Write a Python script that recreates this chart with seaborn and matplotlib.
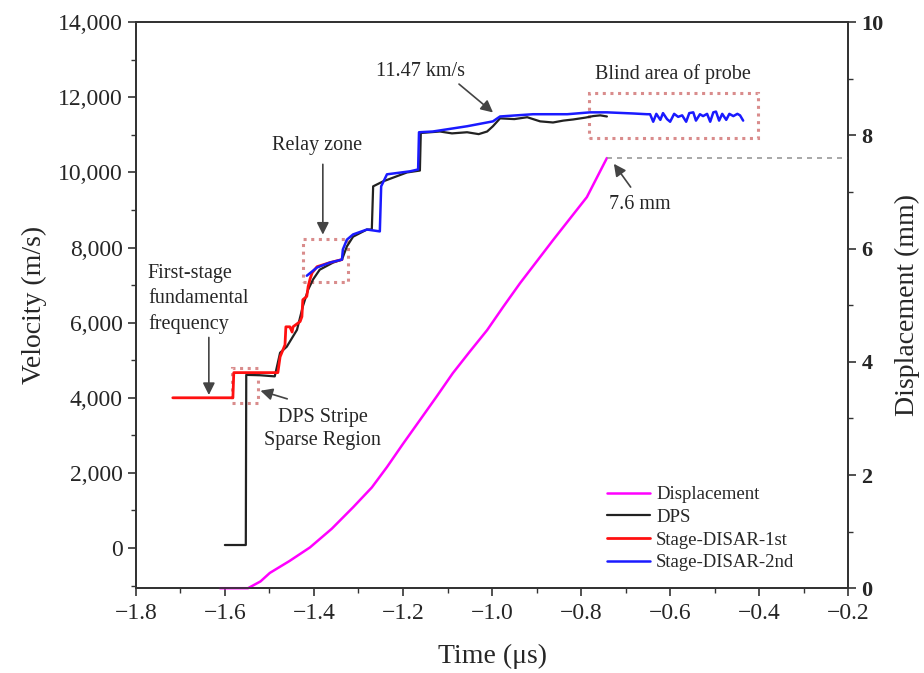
import numpy as np
import pandas as pd
import seaborn as sns
from matplotlib import pyplot as plt
from matplotlib.patches import Rectangle
from matplotlib.ticker import FuncFormatter, MultipleLocator

# displacement curve (right axis, mm)
disp_t = [-1.611, -1.548, -1.520, -1.499, -1.455, -1.409, -1.360, -1.312, -1.270,
          -1.236, -1.200, -1.162, -1.125, -1.088, -1.050, -1.011, -0.975, -0.937,
          -0.900, -0.863, -0.825, -0.787, -0.742]
disp_mm = [0, 0, 0.12, 0.27, 0.48, 0.72, 1.05, 1.43, 1.78, 2.14, 2.55, 2.97, 3.38,
           3.80, 4.18, 4.56, 4.97, 5.39, 5.77, 6.15, 6.53, 6.91, 7.6]

# DPS velocity (m/s)
dps_t = [-1.600, -1.557, -1.553, -1.552, -1.521, -1.488, -1.476, -1.461, -1.438,
         -1.425, -1.413, -1.402, -1.387, -1.357, -1.337, -1.326, -1.312, -1.281,
         -1.270, -1.267, -1.245, -1.191, -1.162, -1.160, -1.117, -1.090, -1.056,
         -1.030, -1.011, -0.998, -0.982, -0.950, -0.921, -0.892, -0.863, -0.840,
         -0.818, -0.790, -0.773, -0.757, -0.742]
dps_v = [80, 80, 80, 4610, 4600, 4570, 5200, 5360, 5810, 6430, 6880, 7150, 7410,
         7600, 7680, 8030, 8290, 8480, 8480, 9630, 9760, 10000, 10050, 11050, 11090,
         11040, 11070, 11020, 11090, 11230, 11440, 11420, 11470, 11360, 11330, 11380,
         11410, 11460, 11500, 11520, 11490]

# Stage-DISAR-1st
red_t = [-1.717, -1.582, -1.580, -1.481, -1.476, -1.465, -1.463, -1.454, -1.449,
         -1.447, -1.431, -1.427, -1.425, -1.416, -1.413, -1.409, -1.404, -1.393,
         -1.364, -1.337]
red_v = [4000, 4000, 4670, 4670, 5090, 5410, 5890, 5890, 5750, 5890, 6030, 6160,
         6610, 6700, 6960, 7150, 7330, 7490, 7600, 7680]

# Stage-DISAR-2nd
blue_t = [-1.416, -1.393, -1.364, -1.337, -1.335, -1.326, -1.312, -1.281, -1.252,
          -1.249, -1.236, -1.184, -1.166, -1.164, -1.133, -1.056, -0.998, -0.982,
          -0.908, -0.831, -0.780, -0.742, -0.683, -0.652,
          -0.645, -0.638, -0.631, -0.622, -0.616, -0.607, -0.600, -0.591, -0.582,
          -0.573, -0.564, -0.557, -0.548, -0.542, -0.533, -0.526, -0.517, -0.510,
          -0.503, -0.497, -0.490, -0.483, -0.474, -0.467, -0.458, -0.449, -0.443,
          -0.436]
blue_v = [7250, 7470, 7600, 7680, 7950, 8210, 8350, 8480, 8430, 9630, 9950, 10030,
          10080, 11070, 11090, 11230, 11360, 11490, 11550, 11550, 11600, 11600,
          11570, 11550,
          11550, 11350, 11560, 11400, 11580, 11420, 11350, 11560, 11480, 11520,
          11350, 11580, 11600, 11380, 11550, 11500, 11560, 11350, 11600, 11620,
          11380, 11560, 11400, 11560, 11500, 11560, 11520, 11380]

sns.set_theme(style="ticks")
plt.rcParams['font.family'] = ['Liberation Serif', 'DejaVu Serif']

fig = plt.figure(figsize=(9.24, 6.73), dpi=100)
ax = fig.add_axes([0.147, 0.126, 0.771, 0.841])
ax2 = ax.twinx()

df_disp = pd.DataFrame({"t": disp_t, "v": disp_mm})
df_dps = pd.DataFrame({"t": dps_t, "v": dps_v})
df_red = pd.DataFrame({"t": red_t, "v": red_v})
df_blue = pd.DataFrame({"t": blue_t, "v": blue_v})

sns.lineplot(data=df_dps, x="t", y="v", sort=False, estimator=None, color="#222222",
             lw=1.6, ax=ax, label="DPS")
sns.lineplot(data=df_red, x="t", y="v", sort=False, estimator=None, color="#ff1010",
             lw=2.0, ax=ax, label="Stage-DISAR-1st")
sns.lineplot(data=df_blue, x="t", y="v", sort=False, estimator=None, color="#1a1aff",
             lw=1.8, ax=ax, label="Stage-DISAR-2nd")
sns.lineplot(data=df_disp, x="t", y="v", sort=False, estimator=None, color="#ff00ff",
             lw=1.8, ax=ax2, label="Displacement")
for ln in ax2.get_lines():
    ln.set_clip_on(False)

ax.set_xlim(-1.8, -0.2)
ax.set_ylim(-1070, 14000)
ax2.set_ylim(0, 10)

ax.xaxis.set_major_locator(MultipleLocator(0.2))
ax.xaxis.set_minor_locator(MultipleLocator(0.1))
ax.yaxis.set_major_locator(MultipleLocator(2000))
ax.yaxis.set_minor_locator(MultipleLocator(1000))
ax2.yaxis.set_major_locator(MultipleLocator(2))
ax2.yaxis.set_minor_locator(MultipleLocator(1))
ax.yaxis.set_major_formatter(FuncFormatter(lambda v, p: f"{int(v):,}"))
ax.xaxis.set_major_formatter(FuncFormatter(lambda v, p: f"{v:.1f}".replace("-", "\u2212")))

for a in (ax, ax2):
    a.tick_params(which="major", length=6, width=1.2, direction="out", color="#333")
    a.tick_params(which="minor", length=3.5, width=1.0, direction="out", color="#333")
    for s in a.spines.values():
        s.set_linewidth(1.3)
        s.set_color("#333")
ax.tick_params(axis="both", labelsize=17)
ax.tick_params(axis="x", pad=5)
ax2.tick_params(axis="y", labelsize=16)
for lb in ax2.get_yticklabels():
    lb.set_fontweight("bold")

ax.set_xlabel("Time (μs)", fontsize=20, labelpad=14)
ax.set_ylabel("Velocity (m/s)", fontsize=20, labelpad=8)
ax2.set_ylabel("Displacement (mm)", fontsize=20, labelpad=8)

# dashed reference line at 7.6 mm
ax2.plot([-0.742, -0.2], [7.6, 7.6], ls=(0, (3, 3)), color="#999999", lw=1.2)

# dotted boxes
box_kw = dict(fill=False, edgecolor="#d98c8c", lw=2.2, ls=(0, (1, 1.5)))
ax.add_patch(Rectangle((-1.584, 3867), 0.058, 933, **box_kw))
ax.add_patch(Rectangle((-1.425, 7095), 0.101, 1145, **box_kw))
ax.add_patch(Rectangle((-0.782, 10930), 0.380, 1180, **box_kw))

arrow = dict(arrowstyle="-|>", color="#444444", lw=1.2, mutation_scale=18)
fs = 14.5
ax.text(-1.773, 7560, "First-stage\nfundamental\nfrequency", fontsize=fs,
        ha="left", va="top", linespacing=1.4)
ax.annotate("", xy=(-1.636, 4000), xytext=(-1.636, 5680), arrowprops=arrow)
ax.text(-1.380, 3720, "DPS Stripe\nSparse Region", fontsize=fs, ha="center",
        va="top", linespacing=1.25)
ax.annotate("", xy=(-1.526, 4210), xytext=(-1.454, 3950), arrowprops=arrow)
ax.text(-1.393, 10720, "Relay zone", fontsize=fs, ha="center", va="center")
ax.annotate("", xy=(-1.380, 8270), xytext=(-1.380, 10290), arrowprops=arrow)
ax.text(-1.160, 12690, "11.47 km/s", fontsize=fs, ha="center", va="center")
ax.annotate("", xy=(-0.993, 11550), xytext=(-1.079, 12400), arrowprops=arrow)
ax.text(-0.593, 12610, "Blind area of probe", fontsize=fs, ha="center", va="center")
ax.text(-0.667, 9150, "7.6 mm", fontsize=fs, ha="center", va="center")
ax.annotate("", xy=(-0.730, 10290), xytext=(-0.685, 9550), arrowprops=arrow)

h1, l1 = ax.get_legend_handles_labels()
h2, l2 = ax2.get_legend_handles_labels()
ax.get_legend().remove()
ax2.get_legend().remove()
ax2.legend(h2 + h1, l2 + l1, loc="lower right", bbox_to_anchor=(0.948, 0.0),
           frameon=False, fontsize=13.5, handlelength=2.3, labelspacing=0.3,
           handletextpad=0.3)

fig.savefig("out.png", dpi=100)
